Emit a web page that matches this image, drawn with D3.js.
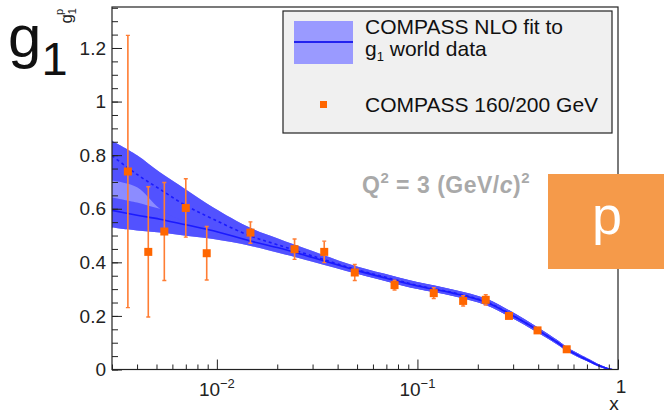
<!DOCTYPE html>
<html>
<head>
<meta charset="utf-8">
<script src="https://cdn.jsdelivr.net/npm/d3@7"></script>
<style>
  body { margin: 0; background: #fff; }
  svg { display: block; }
  text { font-family: "Liberation Sans", Arial, sans-serif; }
</style>
</head>
<body>
<div id="chart"></div>
<script>
// fit curves
var fitX      = [0.003, 0.004, 0.0052, 0.007, 0.0096, 0.0146, 0.02, 0.03, 0.05, 0.075, 0.1, 0.15, 0.22, 0.29, 0.4, 0.5, 0.56, 0.65, 0.72, 0.8, 0.9, 0.935];
var fitSolid  = [0.594, 0.576, 0.561, 0.540, 0.518, 0.480, 0.455, 0.418, 0.369, 0.335, 0.312, 0.285, 0.251, 0.206, 0.146, 0.100, 0.074, 0.048, 0.032, 0.015, 0.002, 0];
var fitDashed = [0.798, 0.728, 0.673, 0.612, 0.561, 0.499, 0.466, 0.424, 0.372, 0.338, 0.314, 0.287, 0.253, 0.207, 0.146, 0.100, 0.074, 0.048, 0.032, 0.015, 0.002, 0];
var solidLo   = [0.530, 0.519, 0.511, 0.499, 0.487, 0.462, 0.437, 0.402, 0.357, 0.323, 0.300, 0.274, 0.240, 0.196, 0.137, 0.092, 0.067, 0.042, 0.027, 0.011, 0, 0];
var solidHi   = [0.642, 0.623, 0.600, 0.585, 0.555, 0.505, 0.476, 0.436, 0.383, 0.349, 0.326, 0.298, 0.264, 0.218, 0.156, 0.109, 0.082, 0.055, 0.038, 0.020, 0.005, 0];
var dashedLo  = [0.705, 0.680, 0.600, 0.550, 0.520, 0.475, 0.442, 0.405, 0.358, 0.324, 0.301, 0.275, 0.241, 0.196, 0.137, 0.092, 0.067, 0.042, 0.027, 0.011, 0, 0];
var dashedHi  = [0.854, 0.800, 0.736, 0.672, 0.605, 0.530, 0.490, 0.442, 0.384, 0.350, 0.327, 0.299, 0.265, 0.219, 0.156, 0.109, 0.082, 0.055, 0.038, 0.020, 0.005, 0];

// COMPASS 160/200 GeV points
var dataX   = [0.0036, 0.00455, 0.00547, 0.0070, 0.0089, 0.0147, 0.0244, 0.0343, 0.0487, 0.0769, 0.1206, 0.169, 0.219, 0.286, 0.397, 0.555];
var dataY   = [0.739, 0.439, 0.515, 0.603, 0.434, 0.511, 0.449, 0.439, 0.362, 0.315, 0.285, 0.256, 0.260, 0.200, 0.146, 0.0755];
var dataErr = [0.508, 0.243, 0.183, 0.109, 0.100, 0.040, 0.038, 0.040, 0.030, 0.018, 0.020, 0.019, 0.019, 0.008, 0.007, 0.006];

var yMajor = [0, 0.2, 0.4, 0.6, 0.8, 1, 1.2];
var xMajor = [0.01, 0.1, 1];
var xLabels = [["10", "\u22122"], ["10", "\u22121"], ["1", ""]];

var width = 664, height = 414;
var frameL = 112, frameR = 618, frameT = 7, frameB = 369.5;

var svg = d3.select("#chart").append("svg")
        .attr("width", width)
        .attr("height", height);

var x = d3.scaleLog().domain([0.003, 1]).range([frameL, frameR]);
var y = d3.scaleLinear().domain([0, 1.353]).range([frameB, frameT]);

svg.append("clipPath").attr("id", "frame")
        .append("rect")
        .attr("x", frameL).attr("y", frameT)
        .attr("width", frameR - frameL).attr("height", frameB - frameT);

var plot = svg.append("g").attr("clip-path", "url(#frame)");
var idx = d3.range(fitX.length);
var smooth = d3.curveCatmullRom.alpha(0.5);

function band(lo, hi) {
    return d3.area()
            .x(function(i) { return x(fitX[i]); })
            .y0(function(i) { return y(lo[i]); })
            .y1(function(i) { return y(hi[i]); })
            .curve(smooth)(idx);
}
function curve(vals) {
    return d3.line()
            .x(function(i) { return x(fitX[i]); })
            .y(function(i) { return y(vals[i]); })
            .curve(smooth)(idx);
}

// light envelope, then the two darker bands
plot.append("path").attr("d", band(solidLo, dashedHi)).attr("fill", "#8c8cff");
plot.append("path").attr("d", band(solidLo, solidHi)).attr("fill", "#5252ff");
plot.append("path").attr("d", band(dashedLo, dashedHi)).attr("fill", "#5252ff");
plot.append("path").attr("d", curve(fitDashed))
        .attr("fill", "none").attr("stroke", "#1a1aff")
        .attr("stroke-width", 1.6).attr("stroke-dasharray", "3,3");
plot.append("path").attr("d", curve(fitSolid))
        .attr("fill", "none").attr("stroke", "#1a1aff").attr("stroke-width", 1.6);

// error bars and markers
var pts = plot.append("g");
for (var i = 0; i < dataX.length; i++) {
    var px = x(dataX[i]);
    var y1 = y(dataY[i] + dataErr[i]), y2 = y(dataY[i] - dataErr[i]);
    pts.append("line").attr("x1", px).attr("x2", px).attr("y1", y1).attr("y2", y2)
            .attr("stroke", "#ff7d33").attr("stroke-width", 1.6);
    pts.append("line").attr("x1", px - 2).attr("x2", px + 2).attr("y1", y1).attr("y2", y1)
            .attr("stroke", "#ff7d33").attr("stroke-width", 1.4);
    pts.append("line").attr("x1", px - 2).attr("x2", px + 2).attr("y1", y2).attr("y2", y2)
            .attr("stroke", "#ff7d33").attr("stroke-width", 1.4);
    pts.append("rect").attr("x", px - 4).attr("y", y(dataY[i]) - 4)
            .attr("width", 8).attr("height", 8).attr("fill", "#ff6600");
}

// frame
svg.append("rect").attr("x", frameL).attr("y", frameT)
        .attr("width", frameR - frameL).attr("height", frameB - frameT)
        .attr("fill", "none").attr("stroke", "#222").attr("stroke-width", 1.2);

// y axis
var yMinor = d3.range(0, 1.351, 0.05);
svg.append("g").attr("transform", "translate(" + frameL + ",0)")
        .call(d3.axisLeft(y).tickValues(yMinor).tickSize(-6).tickFormat(""))
        .call(function(g) { g.select(".domain").remove(); });
var yAx = svg.append("g").attr("transform", "translate(" + frameL + ",0)")
        .call(d3.axisLeft(y).tickValues(yMajor).tickSize(-10).tickPadding(6)
        .tickFormat(function(d) { return d3.format("")(+d.toFixed(1)); }));
yAx.select(".domain").remove();
yAx.selectAll("text").attr("font-size", "19px").attr("fill", "#222")
        .attr("font-family", "Liberation Sans, Arial, sans-serif");

// x axis
var xMinor = [];
[0.001, 0.01, 0.1].forEach(function(dec) {
    for (var k = 2; k <= 9; k++) {
        var v = dec * k;
        if (v >= 0.003 && v < 1) xMinor.push(v);
    }
});
svg.append("g").attr("transform", "translate(0," + frameB + ")")
        .call(d3.axisBottom(x).tickValues(xMinor).tickSize(-5).tickFormat(""))
        .call(function(g) { g.select(".domain").remove(); });
svg.append("g").attr("transform", "translate(0," + frameB + ")")
        .call(d3.axisBottom(x).tickValues(xMajor).tickSize(-10).tickFormat(""))
        .call(function(g) { g.select(".domain").remove(); });
svg.selectAll(".tick line").attr("stroke", "#222");

xMajor.forEach(function(v, i) {
    var t = svg.append("text")
            .attr("x", x(v) + (i < 2 ? 0 : 3))
            .attr("y", i < 2 ? 396 : 393)
            .attr("text-anchor", "middle")
            .attr("font-size", "19px").attr("fill", "#222");
    t.append("tspan").text(xLabels[i][0]);
    if (xLabels[i][1]) {
        t.append("tspan").attr("dy", -8).attr("font-size", "13px").text(xLabels[i][1]);
    }
});
svg.append("text").attr("x", 614).attr("y", 410).attr("text-anchor", "middle")
        .attr("font-size", "19px").attr("fill", "#222").text("x");

// small rotated axis title
var yt = svg.append("text")
        .attr("transform", "translate(72,8) rotate(-90)")
        .attr("text-anchor", "end").attr("font-size", "17px").attr("fill", "#222");
yt.append("tspan").text("g");
yt.append("tspan").attr("dy", 4).attr("font-size", "11px").text("1");
yt.append("tspan").attr("dx", -7).attr("dy", -13).attr("font-size", "11px").text("p");

// big g1
var g1 = svg.append("text").attr("x", 8).attr("y", 57)
        .attr("font-family", "DejaVu Sans, sans-serif").attr("font-size", "60px").attr("fill", "#111");
g1.append("tspan").text("g");
g1.append("tspan").attr("dy", 18).attr("font-size", "47px").text("1");

// Q^2 label
var q = svg.append("text").attr("x", 362).attr("y", 193)
        .attr("font-size", "23px").attr("font-weight", "bold").attr("fill", "#a9a9a9")
        .attr("letter-spacing", "0.5px");
q.append("tspan").text("Q");
q.append("tspan").attr("dy", -10).attr("font-size", "15px").text("2");
q.append("tspan").attr("dy", 10).text(" = 3 (GeV/");
q.append("tspan").attr("font-style", "italic").text("c");
q.append("tspan").text(")");
q.append("tspan").attr("dy", -10).attr("font-size", "15px").text("2");

// legend
var lg = svg.append("g");
lg.append("rect").attr("x", 283).attr("y", 11).attr("width", 329).attr("height", 122)
        .attr("fill", "#f0f0f0").attr("stroke", "#222").attr("stroke-width", 1.2);
lg.append("rect").attr("x", 294).attr("y", 21).attr("width", 59).attr("height", 43)
        .attr("fill", "#9a9aff");
lg.append("line").attr("x1", 294).attr("x2", 353).attr("y1", 42).attr("y2", 42)
        .attr("stroke", "#2222ee").attr("stroke-width", 2);
lg.append("text").attr("x", 365).attr("y", 34).attr("font-size", "21px").attr("fill", "#111")
        .text("COMPASS NLO fit to");
var l2 = lg.append("text").attr("x", 365).attr("y", 56).attr("font-size", "21px").attr("fill", "#111");
l2.append("tspan").text("g");
l2.append("tspan").attr("dy", 5).attr("font-size", "13px").text("1");
l2.append("tspan").attr("dy", -5).text(" world data");
lg.append("rect").attr("x", 320).attr("y", 101).attr("width", 7).attr("height", 7).attr("fill", "#ff6600");
lg.append("text").attr("x", 365).attr("y", 112).attr("font-size", "21px").attr("fill", "#111")
        .text("COMPASS 160/200 GeV");

// orange p tag
svg.append("rect").attr("x", 548).attr("y", 174).attr("width", 116).attr("height", 95)
        .attr("fill", "#f59a4a");
svg.append("text").attr("x", 607).attr("y", 234).attr("text-anchor", "middle")
        .attr("font-family", "Open Sans, sans-serif").attr("font-size", "54px").attr("fill", "#fff")
        .text("p");
</script>
</body>
</html>
